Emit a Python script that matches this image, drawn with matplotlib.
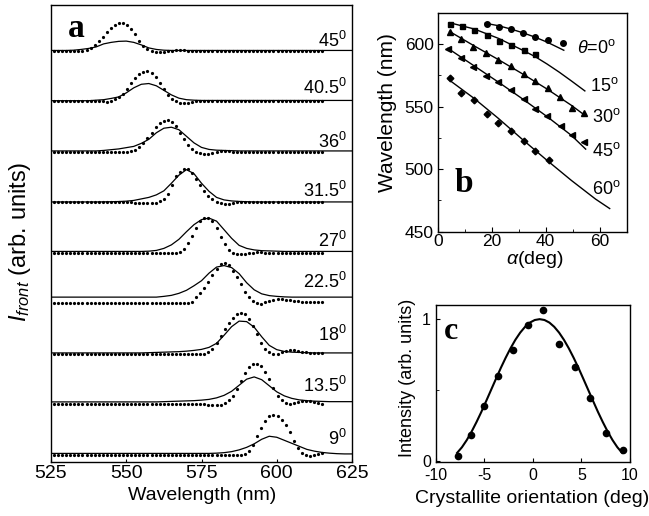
import numpy as np
import matplotlib
matplotlib.use('Agg')
import matplotlib.pyplot as plt

plt.rcParams['font.family'] = ['Liberation Sans', 'DejaVu Sans']
plt.rcParams['mathtext.fontset'] = 'custom'
plt.rcParams['mathtext.rm'] = 'Liberation Sans'
plt.rcParams['mathtext.it'] = 'Liberation Sans:italic'
plt.rcParams['mathtext.bf'] = 'Liberation Sans:bold'
plt.rcParams['axes.unicode_minus'] = False

# ---------------- Panel a data ----------------
wl_dots = np.linspace(526.0, 615.1, 67)
wl_fit = np.linspace(525.0, 625.0, 41)
angle_labels = ['9', '13.5', '18', '22.5', '27', '31.5', '36', '40.5', '45']

dots_45 = [0.0, 0.0, 0.0, 0.0, 0.0, 0.0, 0.0, 0.0,
           0.02, 0.05, 0.11, 0.19, 0.28, 0.38, 0.46, 0.52, 0.555, 0.555, 0.52, 0.44, 0.33, 0.2, 0.1, 0.04,
           0.0, -0.02, -0.025, -0.02, -0.01, 0.0, 0.01, 0.01, 0.01, 0.005,
           0.0, 0.0, 0.0, 0.0, 0.0, 0.0, 0.0, 0.0, 0.0, 0.0, 0.0, 0.0, 0.0, 0.0, 0.0, 0.0, 0.0,
           0.0, 0.0, 0.0, 0.0, 0.0, 0.0, 0.0, 0.0, 0.0, 0.0, 0.0, 0.0, 0.0, 0.0, 0.0, 0.0]
dots_40_5 = [0.0, 0.0, 0.0, 0.0, 0.0, 0.0, 0.0, 0.0, 0.0, 0.0, 0.0, 0.0, 0.0,
             -0.01, 0.012, 0.04, 0.095, 0.15, 0.24, 0.36, 0.46, 0.535, 0.585, 0.6, 0.565, 0.48, 0.37, 0.245,
             0.13, 0.05, 0.0, -0.025, -0.035, -0.03, -0.015, 0.0, 0.01, 0.01, 0.01,
             0.0, 0.0, 0.0, 0.0, 0.0, 0.0, 0.0, 0.0, 0.0, 0.0, 0.0, 0.0, 0.0, 0.0,
             0.0, 0.0, 0.0, 0.0, 0.0, 0.0, 0.0, 0.0, 0.0, 0.0, 0.0, 0.0, 0.0, 0.0]
dots_36 = [0.0, 0.0, 0.0, 0.0, 0.0, 0.0, 0.0, 0.0, 0.0, 0.0, 0.0, 0.0, 0.0, 0.0, 0.0, 0.0, 0.0, 0.0, 0.0,
           0.013, 0.045, 0.1, 0.185, 0.28, 0.385, 0.49, 0.57, 0.62, 0.64, 0.6, 0.51, 0.385, 0.255, 0.135,
           0.05, 0.0, -0.025, -0.035, -0.035, -0.02, 0.0, 0.01, 0.01, 0.01,
           0.0, 0.0, 0.0, 0.0, 0.0, 0.0, 0.0, 0.0, 0.0, 0.0, 0.0, 0.0,
           0.0, 0.0, 0.0, 0.0, 0.0, 0.0, 0.0, 0.0, 0.0, 0.0, 0.0]
dots_31_5 = [0.0, 0.0, 0.0, 0.0, 0.0, 0.0, 0.0, 0.0, 0.0, 0.0, 0.0, 0.0, 0.0, 0.0, 0.0, 0.0, 0.0, 0.0, 0.0, 0.0,
             -0.01, -0.01, -0.01, -0.01, -0.01, -0.01,
             0.02, 0.07, 0.17, 0.35, 0.52, 0.61, 0.67, 0.67, 0.59, 0.47, 0.34, 0.22, 0.13, 0.06, 0.01,
             -0.02, -0.035, -0.035, -0.02, 0.0, 0.01, 0.01, 0.01,
             0.0, 0.0, 0.0, 0.0, 0.0, 0.0, 0.0, 0.0, 0.0, 0.0, 0.0, 0.0, 0.0, 0.0, 0.0, 0.0, 0.0, 0.0]
dots_27 = [0.0, 0.0, 0.0, 0.0, 0.0, 0.0, 0.0, 0.0, 0.0, 0.0, 0.0, 0.0,
           0.0, 0.0, 0.0, 0.0, 0.0, 0.0, 0.0, 0.0, 0.0, 0.0, 0.0, 0.0,
           -0.01, -0.01, -0.01, -0.01, -0.01, -0.01, -0.01,
           0.02, 0.07, 0.19, 0.34, 0.5, 0.64, 0.69, 0.69, 0.63, 0.5, 0.32, 0.17, 0.06, 0.0,
           -0.02, -0.03, -0.025, -0.01, 0.0, 0.01, 0.01, 0.005,
           0.0, 0.0, 0.0, 0.0, 0.0, 0.0, 0.0, 0.0, 0.0, 0.0, 0.0, 0.0, 0.0, 0.0]
dots_22_5 = [0.0, 0.0, 0.0, 0.0, 0.0, 0.0, 0.0, 0.0, 0.0, 0.0, 0.0, 0.0, 0.0, 0.0, 0.0, 0.0,
             0.0, 0.0, 0.0, 0.0, 0.0, 0.0, 0.0, 0.0, 0.0, 0.0, 0.0, 0.0, 0.0, 0.0, 0.0, 0.0,
             0.0, 0.01, 0.03, 0.12, 0.21, 0.31, 0.42, 0.56, 0.69, 0.78, 0.8, 0.76, 0.65, 0.52, 0.38,
             0.23, 0.12, 0.04, 0.0, -0.01, 0.02, 0.05, 0.07, 0.08, 0.08, 0.07, 0.06, 0.05, 0.04,
             0.03, 0.03, 0.03, 0.02, 0.02, 0.02]
dots_18 = [0.0, 0.0, 0.0, 0.0, 0.0, 0.0, 0.0, 0.0, 0.0, 0.0, 0.0, 0.0, 0.0, 0.0, 0.0, 0.0, 0.0, 0.0,
           0.0, 0.0, 0.0, 0.0, 0.0, 0.0, 0.0, 0.0, 0.0, 0.0, 0.0, 0.0, 0.0, 0.0, 0.0, 0.0, 0.0,
           -0.01, -0.01, -0.01,
           0.03, 0.1, 0.22, 0.36, 0.5, 0.61, 0.72, 0.79, 0.81, 0.79, 0.7, 0.56, 0.39, 0.21, 0.09,
           0.03, -0.01, 0.0, 0.03, 0.06, 0.08, 0.075, 0.06, 0.04, 0.03, 0.02, 0.02, 0.02, 0.02]
dots_13_5 = [0.0, 0.0, 0.0, 0.0, 0.0, 0.0, 0.0, 0.0, 0.0, 0.0, 0.0, 0.0, 0.0, 0.0, 0.0, 0.0, 0.0, 0.0, 0.0,
             0.0, 0.0, 0.0, 0.0, 0.0, 0.0, 0.0, 0.0, 0.0, 0.0, 0.0, 0.0, 0.0, 0.0, 0.0, 0.0, 0.0, 0.0, 0.0,
             -0.01, -0.01, -0.01, -0.01,
             0.03, 0.08, 0.16, 0.3, 0.47, 0.62, 0.74, 0.8, 0.81, 0.77, 0.64, 0.5, 0.32, 0.16, 0.08,
             0.02, 0.01, 0.03, 0.05, 0.06, 0.07, 0.06, 0.05, 0.03, 0.01]
dots_9 = [0.0, 0.0, 0.0, 0.0, 0.0, 0.0, 0.0, 0.0, 0.0, 0.0, 0.0, 0.0, 0.0, 0.0, 0.0, 0.0, 0.0, 0.0, 0.0, 0.0,
          0.0, 0.0, 0.0, 0.0, 0.0, 0.0, 0.0, 0.0, 0.0, 0.0, 0.0, 0.0, 0.0, 0.0, 0.0, 0.0, 0.0, 0.0, 0.0, 0.0,
          -0.01, -0.01, -0.01, -0.01, -0.01, -0.01, -0.01,
          0.01, 0.08, 0.2, 0.37, 0.53, 0.68, 0.77, 0.8, 0.78, 0.7, 0.6, 0.45, 0.28, 0.14, 0.04,
          0.0, -0.03, -0.01, 0.02, 0.04]

fit_45 = [0.01, 0.01, 0.01, 0.015, 0.03, 0.05, 0.08, 0.14, 0.17, 0.19, 0.195, 0.17, 0.12, 0.06, 0.03, 0.015,
          0.01, 0.01, 0.01, 0.01, 0.01, 0.01, 0.01, 0.01, 0.01, 0.01, 0.01, 0.01, 0.01,
          0.01, 0.01, 0.01, 0.01, 0.01, 0.01, 0.01, 0.01, 0.01, 0.01, 0.01, 0.01]
fit_40_5 = [0.015, 0.015, 0.015, 0.015, 0.015, 0.015,
            0.025, 0.035, 0.06, 0.09, 0.17, 0.27, 0.34, 0.355, 0.31, 0.22, 0.13, 0.065, 0.035, 0.025,
            0.02, 0.02, 0.02, 0.02, 0.02, 0.02, 0.02, 0.02, 0.02, 0.02, 0.02,
            0.02, 0.02, 0.02, 0.02, 0.02, 0.02, 0.02, 0.02, 0.02, 0.02]
fit_36 = [0.02, 0.02, 0.02, 0.02, 0.02, 0.02, 0.02,
          0.03, 0.045, 0.06, 0.085, 0.11, 0.17, 0.25, 0.38, 0.47, 0.49, 0.44, 0.31, 0.18, 0.09, 0.05,
          0.035, 0.03, 0.025,
          0.02, 0.02, 0.02, 0.02, 0.02, 0.02, 0.02, 0.02, 0.02, 0.02, 0.02, 0.02, 0.02, 0.02, 0.02, 0.02]
fit_31_5 = [0.01, 0.01, 0.01, 0.01, 0.01, 0.01, 0.01,
            0.012, 0.014, 0.018, 0.025, 0.04, 0.07, 0.1, 0.15, 0.23, 0.38, 0.54, 0.65, 0.57, 0.38, 0.22,
            0.1, 0.05, 0.03, 0.02, 0.015,
            0.01, 0.01, 0.01, 0.01, 0.01, 0.01, 0.01, 0.01, 0.01, 0.01, 0.01, 0.01, 0.01, 0.01]
fit_27 = [0.03, 0.03, 0.03, 0.03, 0.03, 0.03, 0.03, 0.03, 0.03, 0.03, 0.03, 0.03, 0.03,
          0.035, 0.05, 0.09, 0.16, 0.27, 0.42, 0.56, 0.66, 0.69, 0.63, 0.46, 0.29, 0.15, 0.09, 0.06,
          0.045, 0.04, 0.035,
          0.03, 0.03, 0.03, 0.03, 0.03, 0.03, 0.03, 0.03, 0.03, 0.03]
fit_22_5 = [0.125, 0.125, 0.125, 0.125, 0.125, 0.125, 0.125, 0.125, 0.125, 0.125, 0.125, 0.125, 0.125,
            0.125, 0.125,
            0.14, 0.16, 0.2, 0.26, 0.35, 0.45, 0.6, 0.72, 0.75, 0.71, 0.59, 0.41, 0.27, 0.19, 0.155,
            0.14, 0.13,
            0.125, 0.125, 0.125, 0.125, 0.125, 0.125, 0.125, 0.125, 0.125]
fit_18 = [0.02, 0.02, 0.02, 0.02, 0.02, 0.02, 0.02, 0.02, 0.02, 0.02, 0.02, 0.02, 0.02,
          0.025, 0.03, 0.035, 0.04, 0.045, 0.055, 0.07, 0.09, 0.13, 0.21, 0.37, 0.54, 0.65, 0.64,
          0.53, 0.34, 0.17, 0.085, 0.05, 0.035, 0.03, 0.025,
          0.02, 0.02, 0.02, 0.02, 0.02, 0.02]
fit_13_5 = [0.05, 0.05, 0.05, 0.05, 0.05, 0.05, 0.05, 0.05, 0.05, 0.05, 0.05, 0.05, 0.05, 0.05, 0.05,
            0.055, 0.06, 0.065, 0.07, 0.075, 0.085, 0.1, 0.13, 0.18, 0.26, 0.38, 0.5, 0.545, 0.49,
            0.37, 0.25, 0.17, 0.12, 0.09, 0.075, 0.065, 0.06,
            0.055, 0.055, 0.055, 0.055]
fit_9 = [0.03, 0.03, 0.03, 0.03, 0.03, 0.03, 0.03, 0.03, 0.03, 0.03, 0.03,
         0.03, 0.03, 0.03, 0.03, 0.03, 0.03, 0.03, 0.03, 0.03, 0.03, 0.03,
         0.035, 0.045, 0.065, 0.1, 0.15, 0.22, 0.31, 0.37, 0.35, 0.29, 0.23, 0.17, 0.11, 0.075,
         0.05, 0.035, 0.025, 0.02, 0.02]

dots_all = [dots_9, dots_13_5, dots_18, dots_22_5, dots_27, dots_31_5, dots_36, dots_40_5, dots_45]
fits_all = [fit_9, fit_13_5, fit_18, fit_22_5, fit_27, fit_31_5, fit_36, fit_40_5, fit_45]

# ---------------- Panel b data ----------------
alpha_0 = [18.1, 22.8, 27.0, 31.5, 36.1, 40.7, 46.3]
lam_0 = [615.6, 613.9, 611.9, 608.8, 605.7, 603.0, 601.0]
alpha_15 = [4.4, 9.1, 13.5, 18.1, 22.8, 27.2, 31.8, 36.2]
lam_15 = [616.3, 614.3, 611.2, 606.9, 602.6, 599.5, 595.0, 591.8]
alpha_30 = [4.4, 8.8, 13.1, 17.8, 22.4, 27.0, 31.8, 36.1, 40.7, 45.2, 49.8, 54.1]
lam_30 = [609.5, 604.0, 597.5, 593.0, 587.5, 582.5, 576.0, 570.8, 564.8, 557.3, 549.0, 545.0]
alpha_45 = [3.8, 8.8, 13.1, 17.8, 22.4, 27.0, 31.8, 36.2, 40.5, 45.5, 49.8, 54.1]
lam_45 = [595.6, 588.6, 582.0, 574.8, 569.4, 563.5, 556.0, 548.2, 542.1, 534.2, 527.0, 521.7]
alpha_60 = [4.4, 8.8, 13.6, 18.2, 22.5, 27.2, 31.8, 36.2, 41.1]
lam_60 = [572.6, 561.0, 555.4, 544.0, 536.8, 530.4, 522.5, 514.5, 507.6]

fit_alpha_0 = [17.6, 22.5, 27.0, 31.5, 36.0, 40.5, 46.7]
fit_lam_0 = [616.6, 614.6, 612.0, 609.0, 605.5, 601.5, 595.0]
fit_alpha_15 = [4.4, 13.5, 22.5, 31.5, 36.0, 40.5, 45.0, 49.5, 54.5]
fit_lam_15 = [617.0, 612.0, 604.5, 595.0, 590.0, 584.0, 577.5, 570.5, 562.5]
fit_alpha_30 = [4.4, 13.5, 22.5, 31.5, 40.5, 49.5, 54.5]
fit_lam_30 = [610.0, 598.5, 587.5, 576.0, 564.0, 551.0, 543.0]
fit_alpha_45 = [3.8, 13.5, 22.5, 31.5, 40.5, 49.5, 54.8]
fit_lam_45 = [596.5, 582.5, 569.5, 556.0, 542.0, 527.0, 516.0]
fit_alpha_60 = [4.4, 13.5, 22.5, 31.5, 40.5, 49.5, 58.5, 63.7]
fit_lam_60 = [571.0, 556.5, 540.5, 523.5, 507.0, 491.0, 476.0, 468.5]

theta_labels = [r'$\theta$=0$^{\mathrm{o}}$', r'15$^{\mathrm{o}}$', r'30$^{\mathrm{o}}$',
                r'45$^{\mathrm{o}}$', r'60$^{\mathrm{o}}$']

# ---------------- Panel c data ----------------
orient = [-7.67, -6.37, -5.0, -3.56, -2.09, -0.55, 1.06, 2.7, 4.3, 5.9, 7.57, 9.28]
intensity = [0.035, 0.18, 0.387, 0.6, 0.78, 0.96, 1.066, 0.825, 0.66, 0.446, 0.198, 0.075]
orient_fit = np.linspace(-7.8, 9.2, 35)
intensity_fit = [0.055, 0.095, 0.146, 0.206, 0.273, 0.345, 0.422, 0.5, 0.578, 0.655, 0.727, 0.794,
                 0.854, 0.905, 0.946, 0.976, 0.994, 1.0, 0.994, 0.976, 0.946, 0.905, 0.854, 0.794,
                 0.727, 0.655, 0.578, 0.5, 0.422, 0.345, 0.273, 0.206, 0.146, 0.095, 0.055]

for d in dots_all:
    assert len(d) == len(wl_dots), len(d)
for f in fits_all:
    assert len(f) == len(wl_fit), len(f)

# ---------------- Figure ----------------
W, H = 649, 516
fig = plt.figure(figsize=(W / 100, H / 100), dpi=100)


def box(l, t, r, b):
    return [l / W, 1 - b / H, (r - l) / W, (b - t) / H]


# Panel a
axa = fig.add_axes(box(51, 5, 352, 462))
for i, (d, f) in enumerate(zip(dots_all, fits_all)):
    axa.plot(wl_fit, np.array(f) + i, color='black', lw=0.9)
    axa.plot(wl_dots, np.array(d) + i, 'o', color='black', ms=2.3, mew=0)
label_dy = [0.2, 0.25, 0.25, 0.3, 0.12, 0.1, 0.08, 0.15, 0.08]
for i, lab in enumerate(angle_labels):
    axa.text(623.3, i + label_dy[i], lab + r'$^{\mathrm{0}}$', ha='right', va='baseline', fontsize=13)
axa.set_xlim(525, 625)
axa.set_ylim(-0.14, 8.91)
axa.set_xticks([525, 550, 575, 600, 625])
axa.set_yticks([])
axa.tick_params(axis='x', direction='in', length=2, pad=2, labelsize=14)
axa.text(0.085, 0.949, 'a', transform=axa.transAxes, ha='center', va='center',
         fontsize=24, fontweight='bold', family='Liberation Serif')
fig.text(202 / W, 1 - 495 / H, 'Wavelength (nm)', ha='center', va='center', fontsize=14)
fig.text(20 / W, 1 - 242 / H, r'$I_{front}$ (arb. units)', ha='center', va='center',
         rotation=90, fontsize=17)

# Panel b
axb = fig.add_axes(box(437.7, 12.7, 626.7, 231.7))
mk = dict(color='black', lw=0)
axb.plot(fit_alpha_0, fit_lam_0, color='black', lw=1)
axb.plot(fit_alpha_15, fit_lam_15, color='black', lw=1)
axb.plot(fit_alpha_30, fit_lam_30, color='black', lw=1)
axb.plot(fit_alpha_45, fit_lam_45, color='black', lw=1)
axb.plot(fit_alpha_60, fit_lam_60, color='black', lw=1)
axb.plot(alpha_0, lam_0, marker='o', ms=4, **mk)
axb.plot(alpha_15, lam_15, marker='s', ms=3.6, **mk)
axb.plot(alpha_30, lam_30, marker='^', ms=4.5, **mk)
axb.plot(alpha_45, lam_45, marker='<', ms=4.5, **mk)
axb.plot(alpha_60, lam_60, marker='D', ms=3.4, **mk)
lab_pos = [(51.5, 597.0), (56.4, 566.8), (57.0, 541.3), (57.0, 514.3), (57.3, 484.0)]
for (x, y), t in zip(lab_pos, theta_labels):
    axb.text(x, y, t, ha='left', va='center', fontsize=13)
axb.set_xlim(0, 70)
axb.set_ylim(450, 625)
axb.set_xticks([0, 20, 40, 60])
axb.set_xticks([10, 30, 50, 70], minor=True)
axb.set_yticks([450, 500, 550, 600])
axb.set_yticks([475, 525, 575], minor=True)
axb.tick_params(which='both', direction='in', labelsize=12.5)
axb.tick_params(which='major', length=3.5)
axb.tick_params(which='minor', length=2.5)
axb.tick_params(axis='x', pad=2)
axb.tick_params(axis='y', pad=3)
axb.text(0.139, 0.222, 'b', transform=axb.transAxes, ha='center', va='center',
         fontsize=24, fontweight='bold', family='Liberation Serif')
fig.text(535 / W, 1 - 260 / H, r'$\alpha$(deg)', ha='center', va='center', fontsize=14)
fig.text(387 / W, 1 - 113 / H, 'Wavelength (nm)', ha='center', va='center',
         rotation=90, fontsize=15)

# Panel c
axc = fig.add_axes(box(435.7, 305, 630, 461.7))
axc.plot(orient_fit, intensity_fit, color='black', lw=1.5)
axc.plot(orient, intensity, 'o', color='black', ms=5.5, mew=0)
axc.set_xlim(-10, 10)
axc.set_ylim(-0.007, 1.1)
axc.set_xticks([-10, -5, 0, 5, 10])
axc.set_yticks([0, 1])
axc.set_yticks([0.5], minor=True)
axc.tick_params(which='both', direction='in', labelsize=11.5)
axc.tick_params(which='major', length=3)
axc.tick_params(which='minor', length=2)
axc.tick_params(axis='x', pad=4.5)
axc.tick_params(axis='y', pad=3.5)
axc.text(0.079, 0.83, 'c', transform=axc.transAxes, ha='center', va='center',
         fontsize=23, fontweight='bold', family='Liberation Serif')
fig.text(532.5 / W, 1 - 498.5 / H, 'Crystallite orientation (deg)', ha='center', va='center',
         fontsize=14)
fig.text(408 / W, 1 - 378 / H, 'Intensity (arb. units)', ha='center', va='center',
         rotation=90, fontsize=13)

for ax in (axa, axb, axc):
    for s in ax.spines.values():
        s.set_linewidth(1.0)

fig.savefig('out.png', dpi=100)
